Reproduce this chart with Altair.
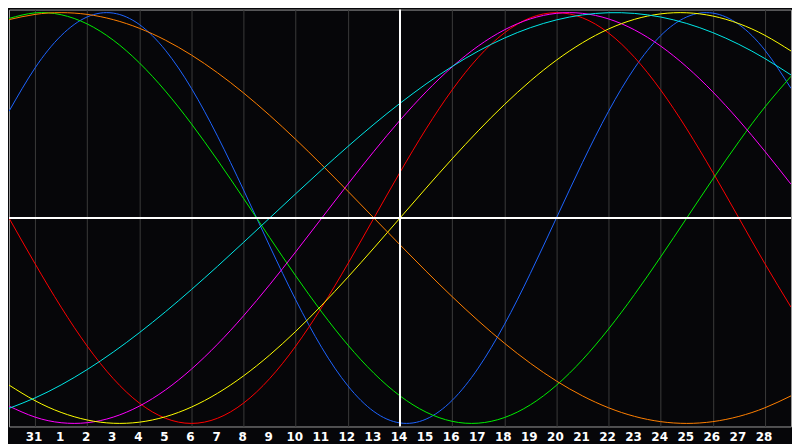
import altair as alt
import pandas as pd

# day index 0..30 across the plot; tick labels on days 1..29
tick_labels = ["31"] + [str(d) for d in range(1, 29)]
tick_positions = list(range(1, 30))
today_index = 15  # day "14"

series_names = ["physical", "emotional", "intellectual", "intuitive",
                "aesthetic", "awareness", "spiritual"]
series_colors = ["#1E64FF", "#FF0000", "#00EE00", "#FF00FF",
                 "#FFFF00", "#FF7F00", "#00E8E8"]

physical = [0.5196, 0.7308, 0.8879, 0.9791, 0.9977, 0.9423, 0.8170, 0.6311,
            0.3984, 0.1362, -0.1362, -0.3984, -0.6311, -0.8170, -0.9423,
            -0.9977, -0.9791, -0.8879, -0.7308, -0.5196, -0.2698, 0.0,
            0.2698, 0.5196, 0.7308, 0.8879, 0.9791, 0.9977, 0.9423, 0.8170,
            0.6311]
emotional = [0.0, -0.2225, -0.4339, -0.6235, -0.7818, -0.9010, -0.9749, -1.0,
             -0.9749, -0.9010, -0.7818, -0.6235, -0.4339, -0.2225, 0.0,
             0.2225, 0.4339, 0.6235, 0.7818, 0.9010, 0.9749, 1.0, 0.9749,
             0.9010, 0.7818, 0.6235, 0.4339, 0.2225, 0.0, -0.2225, -0.4339]
intellectual = [0.9718, 0.9989, 0.9898, 0.9450, 0.8660, 0.7557, 0.6182,
                0.4582, 0.2817, 0.0951, -0.0951, -0.2817, -0.4582, -0.6182,
                -0.7557, -0.8660, -0.9450, -0.9898, -0.9989, -0.9718, -0.9096,
                -0.8146, -0.6901, -0.5406, -0.3717, -0.1893, 0.0, 0.1893,
                0.3717, 0.5406, 0.6901]
intuitive = [-0.9158, -0.9694, -0.9966, -0.9966, -0.9694, -0.9158, -0.8372,
             -0.7357, -0.6142, -0.4759, -0.3247, -0.1646, 0.0, 0.1646, 0.3247,
             0.4759, 0.6142, 0.7357, 0.8372, 0.9158, 0.9694, 0.9966, 0.9966,
             0.9694, 0.9158, 0.8372, 0.7357, 0.6142, 0.4759, 0.3247, 0.1646]
aesthetic = [-0.8133, -0.8894, -0.9465, -0.9834, -0.9993, -0.9940, -0.9675,
             -0.9204, -0.8533, -0.7684, -0.6671, -0.5517, -0.4245, -0.2881,
             -0.1456, 0.0, 0.1456, 0.2881, 0.4245, 0.5517, 0.6671, 0.7684,
             0.8533, 0.9204, 0.9675, 0.9940, 0.9993, 0.9834, 0.9465, 0.8894,
             0.8133]
awareness = [0.9659, 0.9914, 1.0, 0.9914, 0.9659, 0.9239, 0.8660, 0.7934,
             0.7071, 0.6088, 0.5, 0.3827, 0.2588, 0.1305, 0.0, -0.1305,
             -0.2588, -0.3827, -0.5, -0.6088, -0.7071, -0.7934, -0.8660,
             -0.9239, -0.9659, -0.9914, -1.0, -0.9914, -0.9659, -0.9239,
             -0.8660]
spiritual = [-0.9267, -0.8758, -0.8126, -0.7378, -0.6527, -0.5585, -0.4566,
             -0.3482, -0.2349, -0.1183, 0.0, 0.1183, 0.2349, 0.3482, 0.4566,
             0.5585, 0.6527, 0.7378, 0.8126, 0.8758, 0.9267, 0.9646, 0.9890,
             0.9996, 0.9961, 0.9786, 0.9473, 0.9028, 0.8456, 0.7764, 0.6966]

all_series = [physical, emotional, intellectual, intuitive,
              aesthetic, awareness, spiritual]

rows = []
for name, vals in zip(series_names, all_series):
    for t, v in enumerate(vals):
        rows.append({"t": t, "v": v, "series": name})
df = pd.DataFrame(rows)

labels_df = pd.DataFrame({"t": tick_positions, "label": tick_labels})

W, H = 784, 418
xscale = alt.Scale(domain=[0, 30], nice=False, zero=False)
yscale = alt.Scale(domain=[-1.015, 1.015], nice=False, zero=False)

lines = alt.Chart(df).mark_line(strokeWidth=1, interpolate="natural", clip=True).encode(
    x=alt.X("t:Q", scale=xscale,
            axis=alt.Axis(values=tick_positions, grid=True,
                          gridColor="#3a3a3a", gridWidth=1,
                          domain=False, ticks=False, labels=False,
                          title=None)),
    y=alt.Y("v:Q", scale=yscale, axis=None),
    color=alt.Color("series:N",
                    scale=alt.Scale(domain=series_names, range=series_colors),
                    legend=None),
)

hrule = alt.Chart(pd.DataFrame({"v": [0]})).mark_rule(
    color="white", strokeWidth=2).encode(y=alt.Y("v:Q", scale=yscale))
vrule = alt.Chart(pd.DataFrame({"t": [today_index]})).mark_rule(
    color="white", strokeWidth=2).encode(x=alt.X("t:Q", scale=xscale))

texts = alt.Chart(labels_df).mark_text(
    color="white", font="DejaVu Sans", fontSize=12, fontWeight="bold",
    baseline="middle", align="center", dx=-1
).encode(
    x=alt.X("t:Q", scale=xscale),
    y=alt.value(H + 11),
    text="label:N",
)

chart = alt.layer(lines, hrule, vrule, texts).properties(
    width=W, height=H,
    background="#060609",
    padding={"left": 0, "top": 0, "right": 0, "bottom": 0},
).configure_view(stroke="#9a9a9a", strokeWidth=1, fill="#060609")

chart.save("out.html", embed_options={"renderer": "svg", "actions": False})
